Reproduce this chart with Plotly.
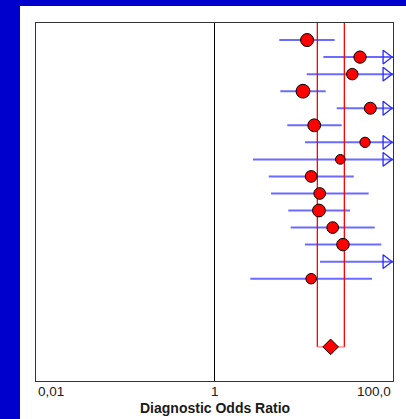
import math
import plotly.graph_objects as go

# ---- data ----
study_or = [10.9, 42.7, 35.0, 9.8, 55.7, 13.1, 48.6, 25.7, 12.1, 15.1, 14.8, 21.1, 27.5, 150.0, 12.1]
study_lo = [5.32, 16.6, 10.8, 5.46, 23.4, 6.54, 10.3, 2.70, 4.05, 4.30, 6.71, 7.14, 10.3, 15.2, 2.52]
study_hi = [22.2, 180.0, 160.0, 17.6, 140.0, 26.6, 210.0, 250.0, 36.3, 53.4, 33.0, 62.4, 73.9, 400.0, 58.2]
study_w = [13.0, 12.3, 11.5, 13.8, 12.0, 12.8, 10.3, 9.7, 11.7, 11.7, 12.8, 11.7, 12.5, 11.0, 10.5]
pooled_or = 20.0
pooled_lo = 14.2
pooled_hi = 28.5
tick_vals = [0.01, 1, 100]
tick_text = ["0,01", "1", "100,0"]
x_title = "Diagnostic Odds Ratio"

X_MIN, X_MAX = 0.01, 100.0
n = len(study_or)
rows = list(range(1, n + 1))
pooled_row = n + 4
Y_MAX = n + 6

W, H = 406, 419
ML, MR, MT, MB = 36, 13, 23, 38
pw = W - ML - MR
ph = H - MT - MB
px_per_dec = pw / (math.log10(X_MAX) - math.log10(X_MIN))

font = "Liberation Sans, Arial, sans-serif"
ci_col = "#6b6bff"

fig = go.Figure()

# CI lines
for i in range(n):
    lo = max(study_lo[i], X_MIN)
    hi = min(study_hi[i], X_MAX)
    fig.add_trace(go.Scatter(x=[lo, hi], y=[rows[i], rows[i]], mode="lines",
                             line=dict(color=ci_col, width=2), showlegend=False,
                             hoverinfo="skip"))

# pooled CI box (red)
fig.add_trace(go.Scatter(x=[pooled_lo, pooled_lo], y=[0, pooled_row], mode="lines",
                         line=dict(color="#ff0000", width=1.3), showlegend=False))
fig.add_trace(go.Scatter(x=[pooled_hi, pooled_hi], y=[0, pooled_row], mode="lines",
                         line=dict(color="#ff0000", width=1.3), showlegend=False))
fig.add_trace(go.Scatter(x=[pooled_lo, pooled_hi], y=[pooled_row, pooled_row], mode="lines",
                         line=dict(color="#ff8080", width=1.3), showlegend=False))

# null line at OR = 1
fig.add_trace(go.Scatter(x=[1, 1], y=[0, Y_MAX], mode="lines",
                         line=dict(color="#000000", width=1), showlegend=False))

# arrows for CIs exceeding the axis
arr_size = 12
arr_tip = 1.155 * arr_size / 2
arr_x = X_MAX * 10 ** (-arr_tip / px_per_dec)
ax_rows = [rows[i] for i in range(n) if study_hi[i] > X_MAX]
fig.add_trace(go.Scatter(x=[arr_x] * len(ax_rows), y=ax_rows, mode="markers",
                         marker=dict(symbol="triangle-right-open", size=arr_size, opacity=1,
                                     color="#2a2aff", line=dict(width=1.3, color="#2a2aff")),
                         cliponaxis=False, showlegend=False))

# study points
fig.add_trace(go.Scatter(x=study_or, y=rows, mode="markers",
                         marker=dict(symbol="circle", size=study_w, color="#ff0000", opacity=1,
                                     line=dict(color="#000000", width=1)),
                         cliponaxis=True, showlegend=False))

# pooled diamond
fig.add_trace(go.Scatter(x=[pooled_or], y=[pooled_row], mode="markers",
                         marker=dict(symbol="diamond", size=12, color="#ff0000", opacity=1,
                                     line=dict(color="#000000", width=1)),
                         showlegend=False))

annotations = []
anchors = ["left", "center", "right"]
lab_y = -(391.3 - (H - MB)) / ph
for v, t, a in zip(tick_vals, tick_text, anchors):
    annotations.append(dict(x=math.log10(v), xref="x", y=lab_y, yref="paper",
                            text=t, showarrow=False, xanchor=a, yanchor="middle",
                            font=dict(family=font, size=13.5, color="#1a1a1a")))
annotations.append(dict(x=0.5, xref="paper", y=-(407.7 - (H - MB)) / ph, yref="paper",
                        text="<b>" + x_title + "</b>", showarrow=False,
                        xanchor="center", yanchor="middle",
                        font=dict(family=font, size=14, color="#1a1a1a")))

shapes = [dict(type="rect", xref="paper", yref="paper", layer="below",
               x0=(20 - ML) / pw, x1=(W - ML + 5) / pw,
               y0=-(MB + 5) / ph, y1=1 + (MT - 6) / ph,
               fillcolor="#ffffff", line=dict(width=0))]

fig.update_layout(
    width=W, height=H, autosize=False,
    margin=dict(l=ML, r=MR, t=MT, b=MB, pad=0),
    paper_bgcolor="#0000cc", plot_bgcolor="#ffffff",
    showlegend=False,
    annotations=annotations, shapes=shapes,
    xaxis=dict(type="log", range=[math.log10(X_MIN), math.log10(X_MAX)],
               showgrid=False, zeroline=False, showticklabels=False, ticks="",
               showline=True, mirror=True, linecolor="#333333", linewidth=1.2,
               fixedrange=True),
    yaxis=dict(range=[Y_MAX, 0], showgrid=False, zeroline=False,
               showticklabels=False, ticks="", showline=True, mirror=True,
               linecolor="#333333", linewidth=1.2, fixedrange=True),
)

fig.write_html("out.html")
